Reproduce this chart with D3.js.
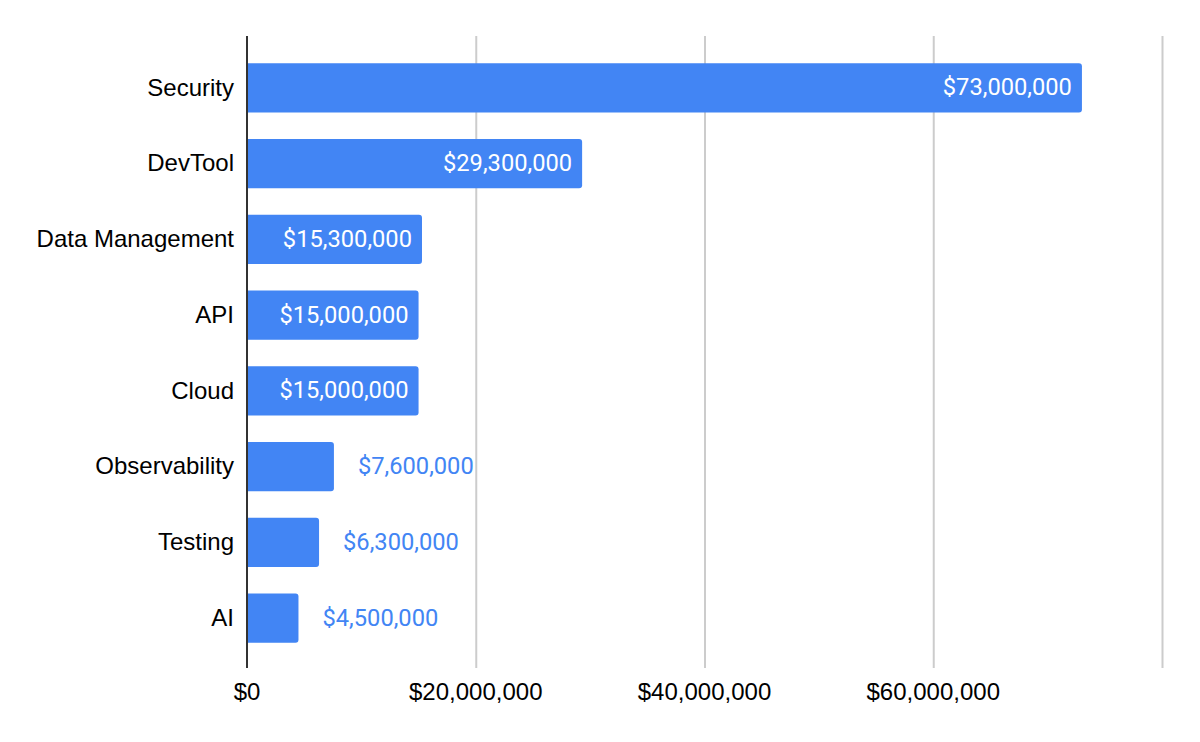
<!DOCTYPE html>
<html><head><meta charset="utf-8">
<script src="https://cdn.jsdelivr.net/npm/d3@7"></script>
<style>body{margin:0;background:#fff}</style>
</head><body>
<svg id="c" width="1200" height="742"></svg>
<script>
const categories = ["Security","DevTool","Data Management","API","Cloud","Observability","Testing","AI"];
const values = [73000000,29300000,15300000,15000000,15000000,7600000,6300000,4500000];
const tickValues = [0,20000000,40000000,60000000,80000000];
const tickLabels = ["$0","$20,000,000","$40,000,000","$60,000,000",""];

const svg = d3.select("#c");
const x = d3.scaleLinear().domain([0,80000000]).range([247,1162]);
const y = d3.scaleBand().domain(categories).range([50,656]).paddingInner(0.35).paddingOuter(0.175);
const fmt = v => "$" + d3.format(",")(v);
const data = categories.map((c,i)=>({c, v: values[i]}));

// gridlines
svg.append("g").selectAll("line").data(tickValues.slice(1)).join("line")
  .attr("x1",d=>x(d)+0.5).attr("x2",d=>x(d)+0.5).attr("y1",36).attr("y2",668)
  .attr("stroke","#cccccc").attr("stroke-width",2);

// bars with rounded right corners
const r = 3;
svg.append("g").selectAll("path").data(data).join("path")
  .attr("d", d=>{
    const x0 = x(0), x1 = x(d.v), y0 = y(d.c), h = y.bandwidth();
    return `M${x0},${y0}H${x1-r}Q${x1},${y0} ${x1},${y0+r}V${y0+h-r}Q${x1},${y0+h} ${x1-r},${y0+h}H${x0}Z`;
  })
  .attr("fill","#4285f4");

// axis line
svg.append("line").attr("x1",x(0)).attr("x2",x(0)).attr("y1",36).attr("y2",668)
  .attr("stroke","#333333").attr("stroke-width",2);

// category labels
svg.append("g").selectAll("text").data(data).join("text")
  .attr("x", x(0)-13).attr("y", d=>y(d.c)+y.bandwidth()/2 - 1).attr("dy","0.36em")
  .attr("text-anchor","end").attr("font-family","Liberation Sans, Arial, sans-serif")
  .attr("font-size",24).attr("fill","#000").text(d=>d.c);

// value labels
svg.append("g").selectAll("text").data(data).join("text")
  .attr("x", d=> d.v > 10000000 ? x(d.v)-10 : x(d.v)+24)
  .attr("y", d=>y(d.c)+y.bandwidth()/2 - 1).attr("dy","0.36em")
  .attr("text-anchor", d=> d.v > 10000000 ? "end" : "start")
  .attr("font-family","Roboto, sans-serif").attr("font-size",23.7)
  .attr("fill", d=> d.v > 10000000 ? "#ffffff" : "#4285f4")
  .text(d=>fmt(d.v));

// x tick labels
svg.append("g").selectAll("text").data(tickValues).join("text")
  .attr("x", d=>x(d)).attr("y", 691).attr("dy","0.36em").attr("text-anchor","middle")
  .attr("font-family","Liberation Sans, Arial, sans-serif").attr("font-size",24)
  .attr("fill","#000").text((d,i)=>tickLabels[i]);
</script>
</body></html>
